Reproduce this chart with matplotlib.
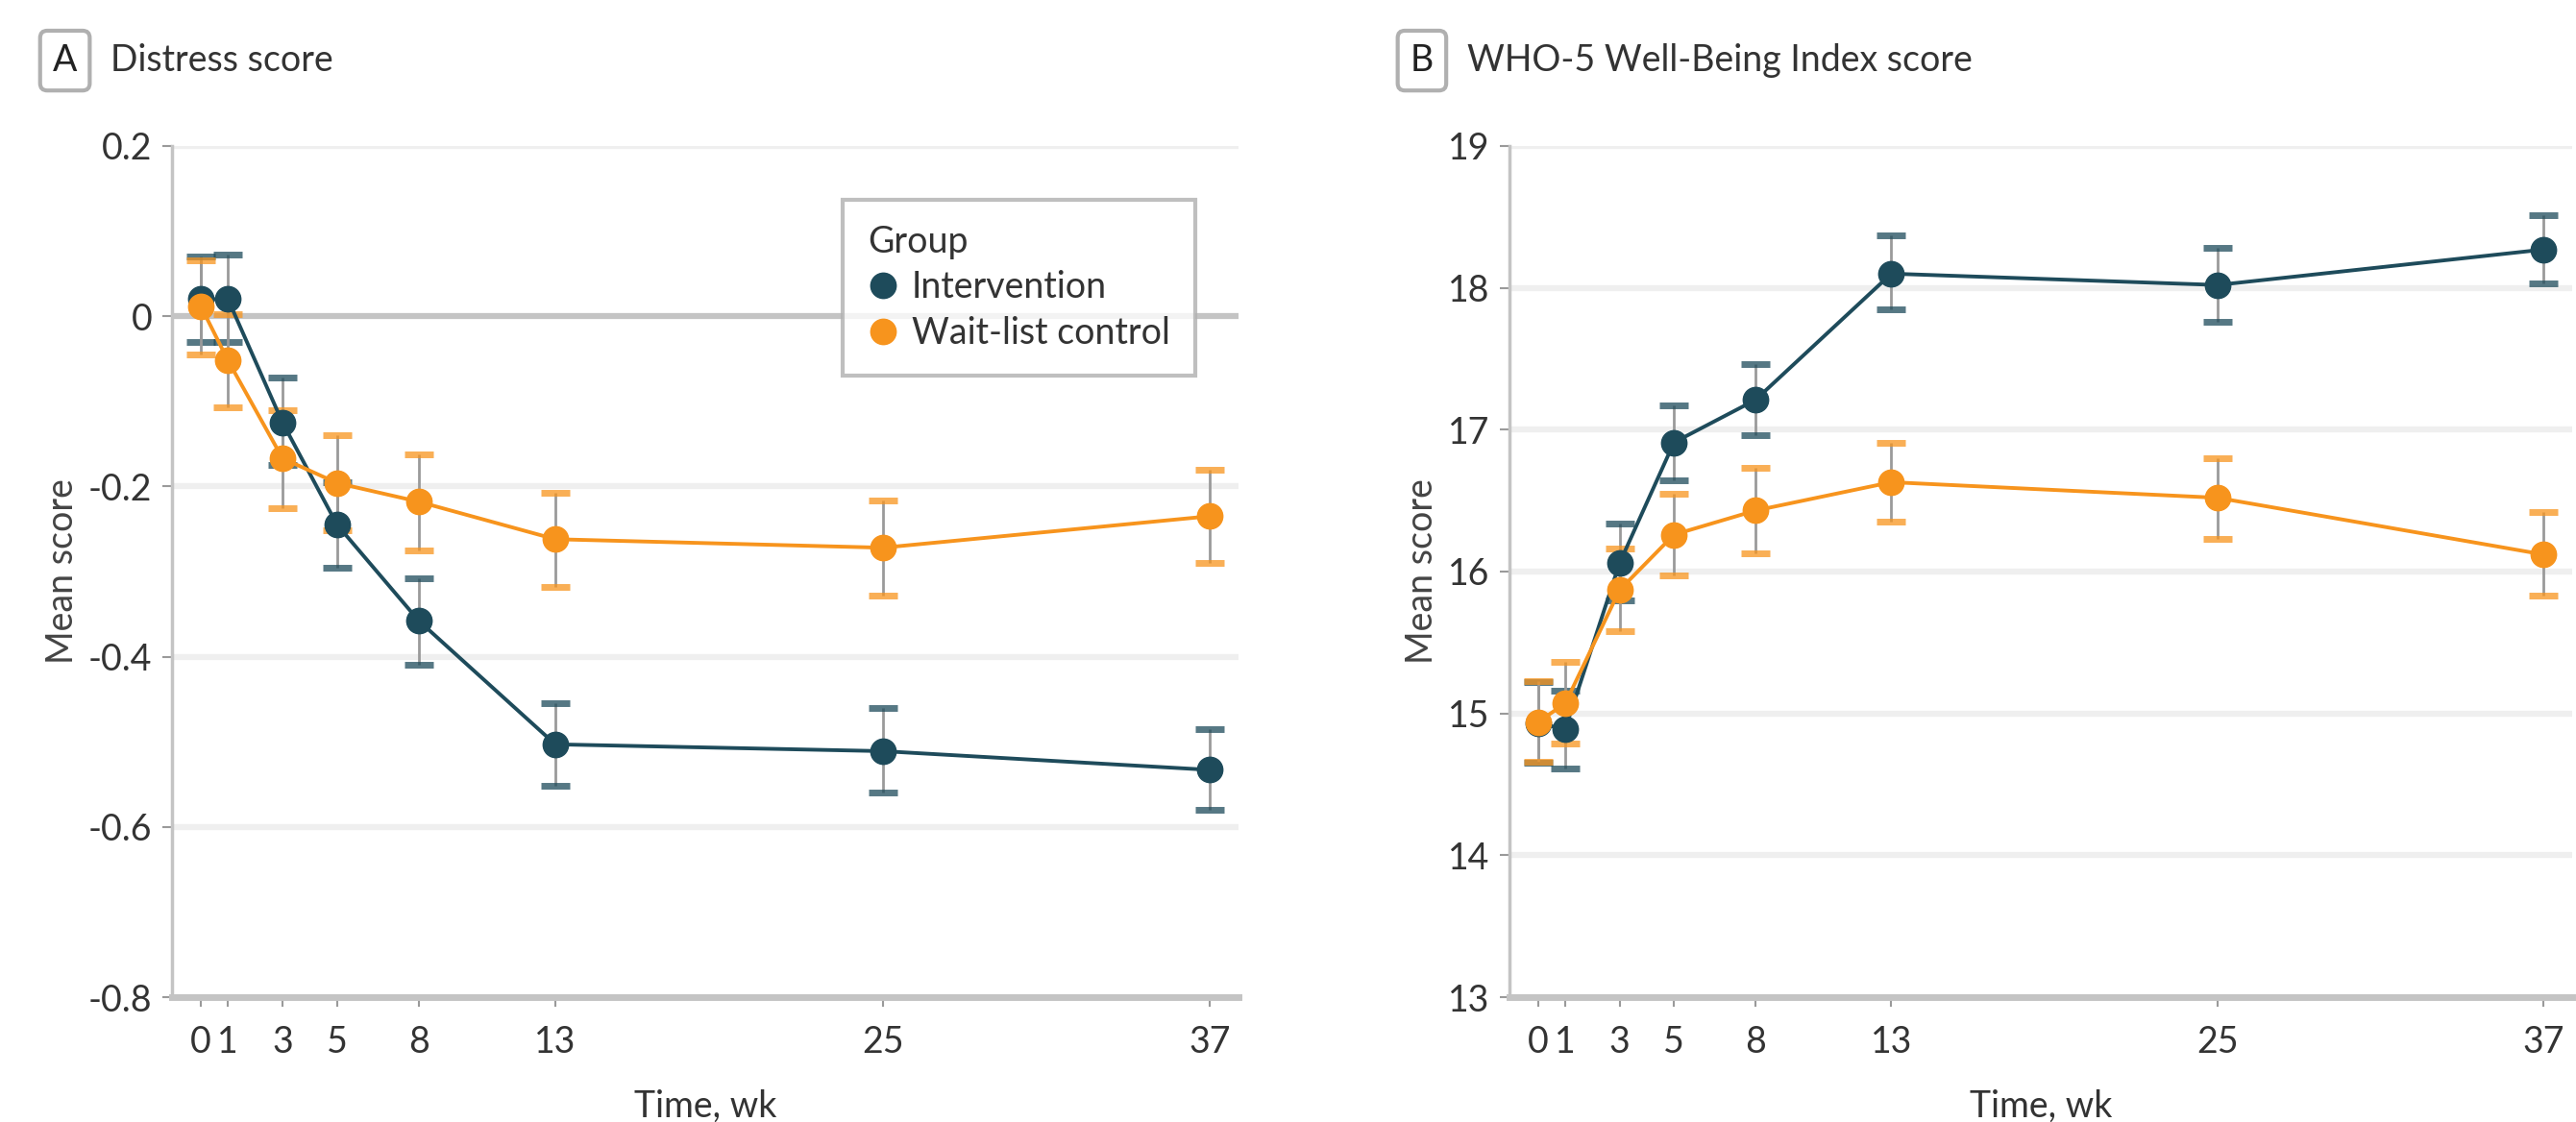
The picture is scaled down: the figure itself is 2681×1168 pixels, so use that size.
import numpy as np
import matplotlib
matplotlib.use('Agg')
import matplotlib.pyplot as plt
from matplotlib.lines import Line2D

plt.rcParams['font.family'] = ['Lato', 'DejaVu Sans']

weeks = [0, 1, 3, 5, 8, 13, 25, 37]

# panel A: distress score
a_int = [0.02, 0.02, -0.125, -0.245, -0.358, -0.503, -0.511, -0.533]
a_int_lo = [-0.03, -0.03, -0.175, -0.295, -0.41, -0.552, -0.56, -0.58]
a_int_hi = [0.07, 0.072, -0.072, -0.195, -0.308, -0.455, -0.46, -0.485]
a_ctl = [0.012, -0.052, -0.167, -0.196, -0.218, -0.262, -0.272, -0.235]
a_ctl_lo = [-0.045, -0.107, -0.225, -0.252, -0.275, -0.318, -0.328, -0.29]
a_ctl_hi = [0.066, 0.003, -0.11, -0.14, -0.162, -0.207, -0.217, -0.18]
a_yticks = [-0.8, -0.6, -0.4, -0.2, 0, 0.2]
a_ylabels = ['-0.8', '-0.6', '-0.4', '-0.2', '0', '0.2']

# panel B: WHO-5
b_int = [14.93, 14.89, 16.06, 16.91, 17.21, 18.10, 18.02, 18.27]
b_int_lo = [14.65, 14.61, 15.80, 16.64, 16.96, 17.85, 17.76, 18.03]
b_int_hi = [15.22, 15.16, 16.34, 17.17, 17.46, 18.37, 18.28, 18.51]
b_ctl = [14.94, 15.07, 15.87, 16.26, 16.43, 16.63, 16.52, 16.12]
b_ctl_lo = [14.66, 14.79, 15.58, 15.97, 16.13, 16.35, 16.23, 15.83]
b_ctl_hi = [15.23, 15.36, 16.16, 16.55, 16.73, 16.91, 16.80, 16.42]
b_yticks = [13, 14, 15, 16, 17, 18, 19]
b_ylabels = ['13', '14', '15', '16', '17', '18', '19']

groups = ['Intervention', 'Wait-list control']
colors = ['#1e4b5b', '#f7941d']
TXT = '#333333'


def series(ax, y, lo, hi, color, label):
	y = np.array(y)
	err = [y - np.array(lo), np.array(hi) - y]
	line, caps, bars = ax.errorbar(weeks, y, yerr=err, color=color, lw=2.8,
		marker='o', ms=19, ecolor='#9a9a9a', elinewidth=2, capsize=11,
		capthick=5, label=label)
	for c in caps:
		c.set_markeredgecolor(color)
		c.set_alpha(0.75)
	return line


def style(ax, yticks, ylabels, zero=None):
	ax.set_xlim(-1.05, 38.05)
	ax.set_ylim(yticks[0], yticks[-1])
	ax.set_xticks(weeks)
	ax.set_xticklabels([str(w) for w in weeks])
	ax.set_yticks(yticks)
	ax.set_yticklabels(ylabels)
	for t in yticks[1:]:
		if zero is not None and t == zero:
			ax.axhline(t, color='#c4c4c4', lw=4.5, zorder=0)
		else:
			ax.axhline(t, color='#efefef', lw=4.5, zorder=0)
	for s in ['top', 'right']:
		ax.spines[s].set_visible(False)
	ax.spines['left'].set_color('#c4c4c4')
	ax.spines['left'].set_linewidth(2.5)
	ax.spines['bottom'].set_color('#c4c4c4')
	ax.spines['bottom'].set_linewidth(5)
	ax.tick_params(axis='both', colors='#9a9a9a', labelcolor=TXT, labelsize=27,
		length=7, width=1.5)
	ax.tick_params(axis='x', pad=14)
	ax.tick_params(axis='y', pad=8)
	ax.set_xlabel('Time, wk', fontsize=27, color=TXT, labelpad=22)
	ax.set_ylabel('Mean score', fontsize=27, color='#444444', labelpad=6)


def main():
	fig = plt.figure(figsize=(26.81, 11.68), dpi=100)
	ax1 = fig.add_axes([0.0668, 0.1113, 0.414, 0.7586])
	ax2 = fig.add_axes([0.586, 0.1113, 0.4125, 0.7586])

	series(ax1, a_int, a_int_lo, a_int_hi, colors[0], groups[0])
	series(ax1, a_ctl, a_ctl_lo, a_ctl_hi, colors[1], groups[1])
	style(ax1, a_yticks, a_ylabels, zero=0)

	series(ax2, b_int, b_int_lo, b_int_hi, colors[0], groups[0])
	series(ax2, b_ctl, b_ctl_lo, b_ctl_hi, colors[1], groups[1])
	style(ax2, b_yticks, b_ylabels)

	h = [Line2D([], [], ls='none', marker='o', ms=19, color=c) for c in colors]
	leg = ax1.legend(h, groups, title='Group', loc='upper right',
		bbox_to_anchor=(0.976, 0.958), fontsize=27, title_fontsize=27,
		alignment='left', frameon=True, fancybox=False, handletextpad=0.4,
		borderpad=0.7, labelspacing=0.3, handlelength=0.8)
	leg.get_frame().set_edgecolor('#b0b0b0')
	leg.get_frame().set_linewidth(3)
	for t in leg.get_texts():
		t.set_color(TXT)
	leg.get_title().set_color(TXT)

	box = dict(boxstyle='round,pad=0.35,rounding_size=0.2', fc='white',
		ec='#b0b0b0', lw=3)
	fig.text(0.0252, 0.946, 'A', fontsize=27, color='#222222', ha='center',
		va='center', bbox=box)
	fig.text(0.043, 0.946, 'Distress score', fontsize=27, color=TXT,
		ha='left', va='center')
	fig.text(0.5520, 0.946, 'B', fontsize=27, color='#222222', ha='center',
		va='center', bbox=box)
	fig.text(0.5695, 0.946, 'WHO-5 Well-Being Index score', fontsize=27,
		color=TXT, ha='left', va='center')

	fig.savefig('out.png', dpi=100, facecolor='white')


if __name__ == '__main__':
	main()
